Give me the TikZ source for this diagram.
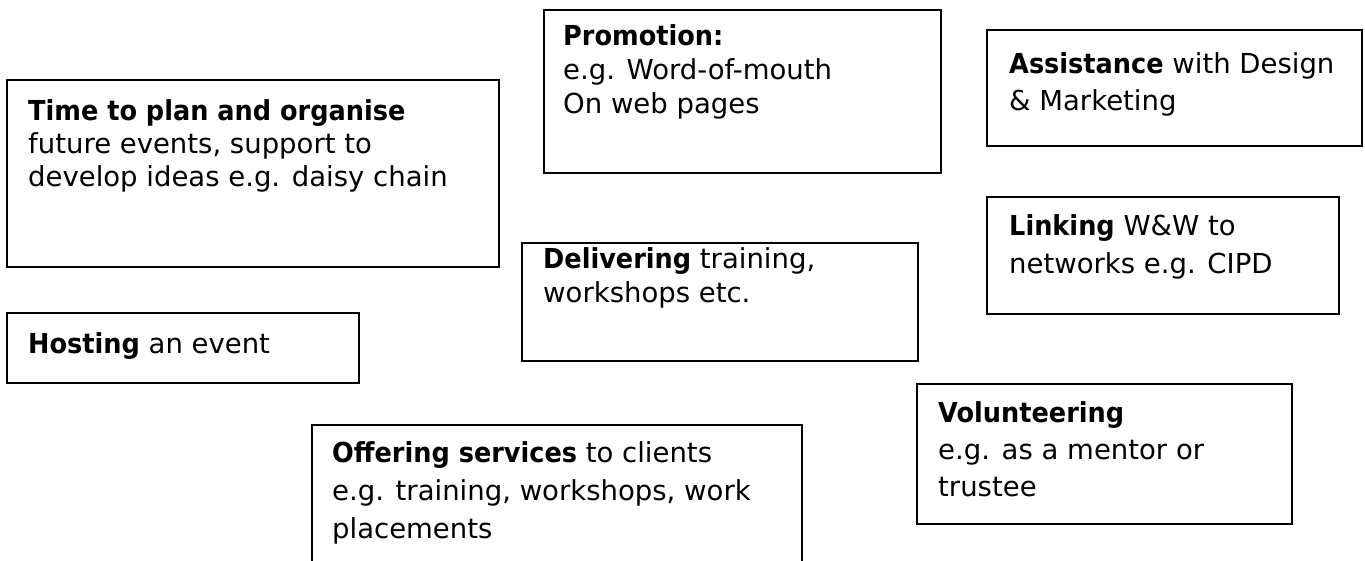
\documentclass[tikz,border=0pt]{standalone}
\usepackage{fontspec}
\setmainfont{DejaVu Sans}[BoldFeatures={FakeStretch=0.93}]
\begin{document}
\begin{tikzpicture}[x=1pt,y=-1pt,
  box/.style={draw=black, line width=2pt, anchor=north west, inner sep=0pt, outer sep=0pt},
  txt/.style={anchor=north west, inner sep=0pt, align=left, font=\fontsize{27.5}{#1}\selectfont}]
\useasboundingbox (0,0) rectangle (1365,561);
\clip (0,0) rectangle (1365,561);
% boxes
\node[box, minimum width=492, minimum height=187] (bT) at (7,80) {};
\node[box, minimum width=397, minimum height=163] (bP) at (544,10) {};
\node[box, minimum width=375, minimum height=116] (bA) at (987,30) {};
\node[box, minimum width=352, minimum height=117] (bL) at (987,197) {};
\node[box, minimum width=396, minimum height=118] (bD) at (522,243) {};
\node[box, minimum width=352, minimum height=70] (bH) at (7,313) {};
\node[box, minimum width=375, minimum height=140] (bV) at (917,384) {};
\node[box, minimum width=490, minimum height=200] (bO) at (312,425) {};
% texts
\node[txt=33] (tT) at (28,96) {\rule{0pt}{24pt}\textbf{Time to plan and organise}\\future events, support to\\develop ideas e.g. daisy chain};
\node[txt=34] (tP) at (563,21) {\rule{0pt}{24pt}\textbf{Promotion:}\\e.g. Word-of-mouth\\On web pages};
\node[txt=37] (tA) at (1009,49) {\rule{0pt}{24pt}\textbf{Assistance} with Design\\\& Marketing};
\node[txt=38] (tL) at (1009,211) {\rule{0pt}{24pt}\textbf{Linking} W\&W to\\networks e.g. CIPD};
\node[txt=34] (tD) at (543,244) {\rule{0pt}{24pt}\textbf{Delivering} training,\\workshops etc.};
\node[txt=35] (tH) at (28,329) {\rule{0pt}{24pt}\textbf{Hosting} an event};
\node[txt=37] (tV) at (938,398) {\rule{0pt}{24pt}\textbf{Volunteering}\\e.g. as a mentor or\\trustee};
\node[txt=38] (tO) at (332,438) {\rule{0pt}{24pt}\textbf{Offering services} to clients\\e.g. training, workshops, work\\placements};
\end{tikzpicture}
\end{document}
